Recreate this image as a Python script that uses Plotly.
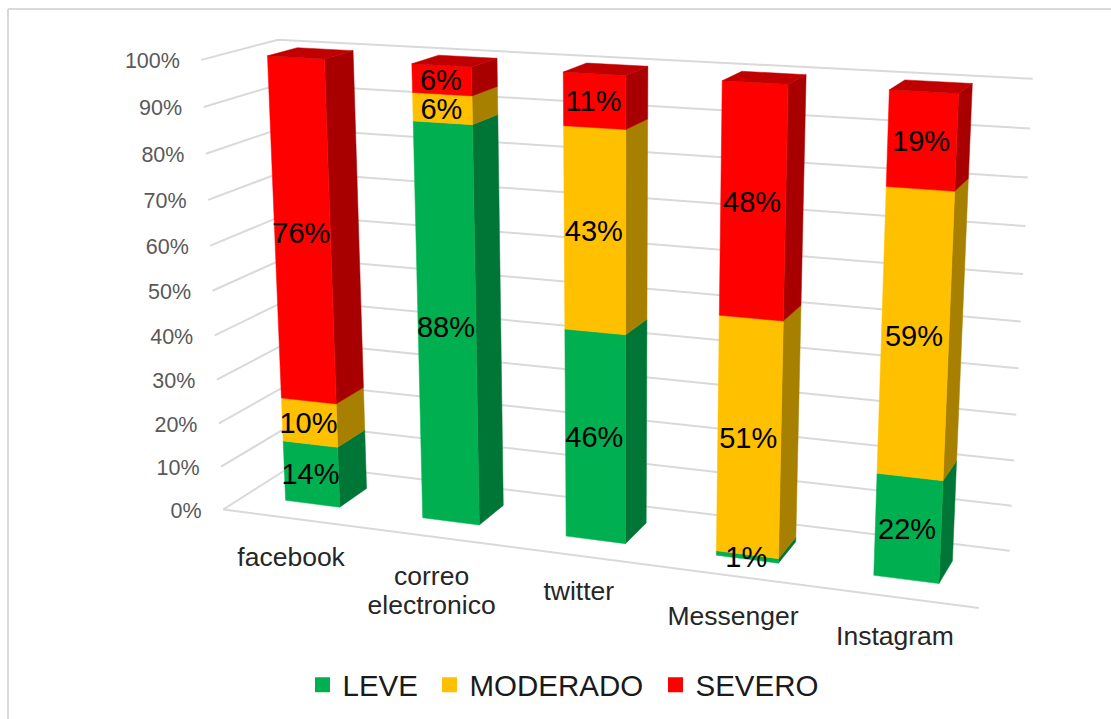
import numpy as np
import plotly.graph_objects as go

# ---------- data ----------
categories = ["facebook", "correo<br>electronico", "twitter", "Messenger", "Instagram"]
leve = [14, 88, 46, 1, 22]
moderado = [10, 6, 43, 51, 59]
severo = [76, 6, 11, 48, 19]
tick_values = [0, 10, 20, 30, 40, 50, 60, 70, 80, 90, 100]
tick_labels = ["0%", "10%", "20%", "30%", "40%", "50%", "60%", "70%", "80%", "90%", "100%"]
series_names = ["LEVE", "MODERADO", "SEVERO"]

# ---------- styles ----------
front_colors = ["#00B050", "#FFC000", "#FF0000"]
side_colors = ["#007636", "#A88000", "#A80000"]
top_color = "#C00000"
grid_color = "#D9D9D9"
BAR_W = 0.4
BAR_D = 0.4
category_nudge = [28, 28, 24, 29, 28]
legend_left = [302.5, 429.5, 655.5]

# ---------- 3D view of the chart box: (category pos, depth, value) -> page pixel ----------
anchors = [
    ((0, 0, 0), (223.3, 509.3)), ((5, 0, 0), (979.3, 608.3)),
    ((0, 1, 100), (278.3, 39.3)), ((0, 0, 100), (201, 60)),
    ((5, 1, 100), (1033.3, 79)), ((5, 1, 0), (1010, 551)),
    ((.3, .3, 0), (286, 500.3)), ((.7, .3, 0), (339.7, 507.3)), ((.7, .7, 0), (366.7, 489)),
    ((.3, .3, 100), (267.7, 55.7)), ((.7, .3, 100), (325, 59)),
    ((.3, .7, 100), (296.7, 47.7)), ((.7, .7, 100), (353.3, 50.7)),
    ((1.3, .3, 0), (422.3, 518)), ((1.7, .3, 0), (479, 525)), ((1.7, .7, 0), (503.3, 506)),
    ((1.3, .3, 100), (411.7, 63.3)), ((1.7, .3, 100), (472.7, 67.3)),
    ((1.3, .7, 100), (438.3, 55.3)), ((1.7, .7, 100), (496.7, 58.7)),
    ((3.3, .3, 0), (716, 555)), ((3.7, .3, 0), (778.3, 563)), ((3.7, .7, 0), (796, 539)),
    ((3.3, .3, 100), (722, 80.7)), ((3.7, .3, 100), (788.3, 84)),
    ((3.3, .7, 100), (741.7, 71.3)), ((3.7, .7, 100), (806, 74.7)),
    ((4.3, .3, 0), (873.3, 575.7)), ((4.7, .3, 0), (939, 583.7)), ((4.7, .7, 0), (952.3, 561.7)),
    ((4.3, .3, 100), (889.3, 90)), ((4.7, .3, 100), (958.7, 93.3)),
    ((4.3, .7, 100), (904, 80)), ((4.7, .7, 100), (972.3, 83.7)),
]


def fit_view(pairs):
    rows = []
    for (u, d, z), (px, py) in pairs:
        X = [u / 5, d, z / 100, 1]
        a, b = px / 555 - 1, py / 360 - 1
        rows.append(X + [0, 0, 0, 0] + [-a * v for v in X])
        rows.append([0, 0, 0, 0] + X + [-b * v for v in X])
    _, _, vt = np.linalg.svd(np.array(rows))
    return vt[-1].reshape(3, 4)


VIEW = fit_view(anchors)


def project(u, d, z):
    a, b, c = VIEW @ np.array([u / 5, d, z / 100, 1])
    return (a / c + 1) * 555, (b / c + 1) * 360


def poly(points, xs, ys, close=True):
    pts = [project(*p) for p in points]
    if close:
        pts.append(pts[0])
    xs.extend([p[0] for p in pts] + [None])
    ys.extend([p[1] for p in pts] + [None])


fig = go.Figure()

# gridlines on the two walls, plus the floor's front edge
gx, gy = [], []
for v in tick_values:
    poly([(0, 0, v), (0, 1, v), (5, 1, v)], gx, gy, close=False)
poly([(0, 0, 0), (5, 0, 0)], gx, gy, close=False)
fig.add_trace(go.Scatter(x=gx, y=gy, mode="lines", line=dict(color=grid_color, width=2),
                         showlegend=False, hoverinfo="skip"))

# bars
stack = np.array([leve, moderado, severo], dtype=float)
bottoms = np.vstack([np.zeros(stack.shape[1]), np.cumsum(stack, axis=0)[:-1]])
for s in range(3):
    sx, sy, fx, fy = [], [], [], []
    for i in range(len(categories)):
        u0, u1 = i + .5 - BAR_W / 2, i + .5 + BAR_W / 2
        d0, d1 = .5 - BAR_D / 2, .5 + BAR_D / 2
        z0, z1 = bottoms[s, i], bottoms[s, i] + stack[s, i]
        poly([(u1, d0, z0), (u1, d1, z0), (u1, d1, z1), (u1, d0, z1)], sx, sy)
        poly([(u0, d0, z0), (u1, d0, z0), (u1, d0, z1), (u0, d0, z1)], fx, fy)
    for xs, ys, col in ((sx, sy, side_colors[s]), (fx, fy, front_colors[s])):
        fig.add_trace(go.Scatter(x=xs, y=ys, mode="lines", fill="toself", fillcolor=col,
                                 line=dict(color=col, width=0.5), showlegend=False, hoverinfo="skip"))

# top caps
tx, ty = [], []
for i in range(len(categories)):
    u0, u1 = i + .5 - BAR_W / 2, i + .5 + BAR_W / 2
    d0, d1 = .5 - BAR_D / 2, .5 + BAR_D / 2
    z = stack[:, i].sum()
    poly([(u0, d0, z), (u1, d0, z), (u1, d1, z), (u0, d1, z)], tx, ty)
fig.add_trace(go.Scatter(x=tx, y=ty, mode="lines", fill="toself", fillcolor=top_color,
                         line=dict(color=top_color, width=0.5), showlegend=False, hoverinfo="skip"))

# data labels
for s in range(3):
    pts = [project(i + .5, .5 - BAR_D / 2, bottoms[s, i] + stack[s, i] / 2) for i in range(len(categories))]
    fig.add_trace(go.Scatter(x=[p[0] - 1 for p in pts], y=[p[1] + 3 for p in pts], mode="text",
                             text=[f"{v:.0f}%" for v in stack[s]], textposition="middle center",
                             textfont=dict(family="Liberation Sans", size=29, color="#000000"),
                             showlegend=False, hoverinfo="skip"))

# value-axis labels
pts = [project(0, 0, v) for v in tick_values]
fig.add_trace(go.Scatter(x=[p[0] - 21.5 for p in pts], y=[p[1] + 3 for p in pts], mode="text",
                         text=tick_labels, textposition="middle left",
                         textfont=dict(family="Liberation Sans", size=21.5, color="#595959"),
                         showlegend=False, hoverinfo="skip"))

# category-axis labels (one text point per line, so the line pitch can follow the reference)
lx, ly, lt = [], [], []
for i, cat in enumerate(categories):
    px, py = project(i + .5, 0, 0)
    for k, line in enumerate(cat.split("<br>")):
        lx.append(px)
        ly.append(py + category_nudge[i] + 29 * k)
        lt.append(line)
fig.add_trace(go.Scatter(x=lx, y=ly, mode="text", text=lt, textposition="bottom center",
                         textfont=dict(family="Liberation Sans", size=26.5, color="#262626"),
                         showlegend=False, hoverinfo="skip"))

# legend entries, one positioned legend per series
layout_legends = {}
for k, (name, col) in enumerate(zip(series_names, front_colors)):
    key = "legend" if k == 0 else f"legend{k + 1}"
    fig.add_trace(go.Scatter(x=[None], y=[None], mode="markers", name=name, legend=key,
                             marker=dict(symbol="square", size=15, color=col)))
    layout_legends[key] = dict(
        x=legend_left[k] / 1111, xanchor="left", y=34 / 719, yanchor="middle",
        font=dict(family="Liberation Sans", size=29.5, color="#1a1a1a"),
        bgcolor="rgba(0,0,0,0)", itemwidth=30,
    )

fig.update_layout(
    width=1111, height=719, margin=dict(l=0, r=0, t=0, b=0),
    paper_bgcolor="white", plot_bgcolor="white",
    xaxis=dict(range=[0, 1111], visible=False, fixedrange=True),
    yaxis=dict(range=[719, 0], visible=False, fixedrange=True),
    shapes=[
        dict(type="line", x0=8, x1=1111, y0=9, y1=9, line=dict(color=grid_color, width=2)),
        dict(type="line", x0=8, x1=8, y0=9, y1=719, line=dict(color=grid_color, width=2)),
    ],
    **layout_legends,
)
fig.write_html("out.html", config={"displayModeBar": False},
               post_script="document.body.style.margin='0';document.documentElement.style.overflow='hidden';")
